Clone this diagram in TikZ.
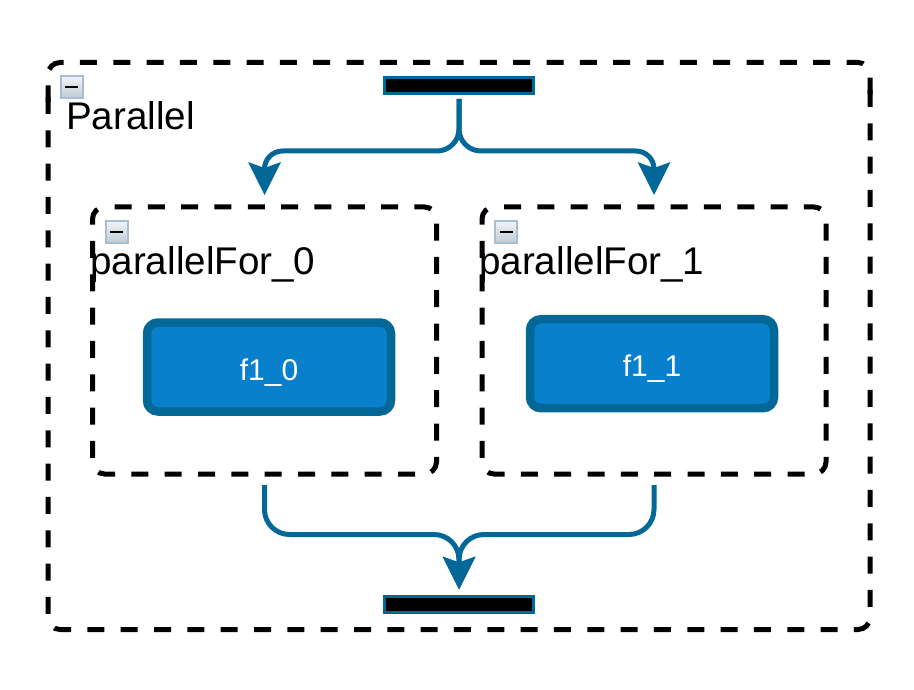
\documentclass[tikz,border=0pt]{standalone}
\usepackage{fontspec}
\setmainfont{Liberation Sans}
\usetikzlibrary{arrows.meta}
\definecolor{flowblue}{HTML}{036897}
\definecolor{taskblue}{HTML}{0880CB}
\definecolor{iconedge}{HTML}{A9BDD3}
\definecolor{icontop}{HTML}{F2F4F6}
\definecolor{iconbottom}{HTML}{BFCBD6}
\tikzset{
  groupbox/.style={inner sep=0pt,outer sep=0pt},
  dashedge/.style={line width=5pt,rounded corners=12pt,dash pattern=on 17pt off 16.33pt},
  taskbox/.style={draw=flowblue,fill=taskblue,line width=8.5pt,rounded corners=11pt,text=white,font=\fontsize{30}{36}\selectfont,minimum width=244pt,minimum height=89pt,text height=26pt,text depth=0pt},
  forkbar/.style={draw=flowblue,fill=black,line width=3pt,minimum width=149pt,minimum height=16pt,inner sep=0pt},
  flowline/.style={draw=flowblue,line width=5pt,-{Stealth[length=33pt,width=33pt,inset=6pt,line width=0pt]}},
  boxlabel/.style={anchor=base west,inner sep=0pt,font=\fontsize{38.6}{44}\selectfont},
  collapseicon/.style={draw=iconedge,top color=icontop,bottom color=iconbottom,line width=2pt,minimum size=22pt,inner sep=0pt}
}
\begin{document}
\begin{tikzpicture}[x=1pt,y=-1pt]
      \useasboundingbox (0,0) rectangle (914,690);
      \node[groupbox,minimum width=822pt,minimum height=567pt] (parallel) at (459,346) {};
      \node[groupbox,minimum width=344pt,minimum height=267pt] (for0) at (264.5,340.5) {};
      \node[groupbox,minimum width=344pt,minimum height=267pt] (for1) at (654,340.5) {};
      \draw[dashedge] ([yshift=-40pt]parallel.north west) -- (parallel.north west) -- (parallel.north east) -- ([yshift=-33pt]parallel.north east);
      \draw[dashedge] ([yshift=-27.5pt]parallel.north east) -- (parallel.south east) -- (parallel.south west) -- ([yshift=-34pt]parallel.north west);
      \draw[dashedge,dash phase=23.33pt] (for0.north west) -- (for0.north east) -- (for0.south east) -- (for0.south west) -- cycle;
      \draw[dashedge,dash phase=23.33pt] (for1.north west) -- (for1.north east) -- (for1.south east) -- (for1.south west) -- cycle;
      \node[forkbar] (topbar) at (459,85.5) {};
      \node[forkbar] (bottombar) at (459,604) {};
      \node[taskbox] (f0) at (269,367) {f1\_0};
      \node[taskbox] (f1) at (652,363.7) {f1\_1};
      \node[boxlabel] (parallellabel) at (66,130) {Parallel};
      \node[boxlabel] (for0label) at (90,275) {parallelFor\_0};
      \node[boxlabel] (for1label) at (479,275) {parallelFor\_1};
      \node[collapseicon] (icon) at (71.5,87) {};
      \node[collapseicon] (icon0) at (116.5,232) {};
      \node[collapseicon] (icon1) at (506,232) {};
      \draw[line width=2.5pt] ([xshift=-6.5pt]icon.center) -- ([xshift=6.5pt]icon.center);
      \draw[line width=2.5pt] ([xshift=-6.5pt]icon0.center) -- ([xshift=6.5pt]icon0.center);
      \draw[line width=2.5pt] ([xshift=-6.5pt]icon1.center) -- ([xshift=6.5pt]icon1.center);
      \coordinate (splitmid) at (459,151);
      \coordinate (mergemid) at (459,534.5);
      \draw[flowline,shorten <=4pt,shorten >=12pt,rounded corners=22pt] (topbar.south) -- (splitmid) [rounded corners=18pt] -- (for0.north |- splitmid) -- (for0.north);
      \draw[flowline,shorten <=4pt,shorten >=12pt,rounded corners=22pt] (topbar.south) -- (splitmid) [rounded corners=18pt] -- (for1.north |- splitmid) -- (for1.north);
      \draw[flowline,shorten <=11pt,shorten >=5pt,rounded corners=25pt] (for0.south) -- (for0.south |- mergemid) -- (mergemid) [rounded corners=20pt] -- (bottombar.north);
      \draw[flowline,shorten <=11pt,shorten >=5pt,rounded corners=25pt] (for1.south) -- (for1.south |- mergemid) -- (mergemid) [rounded corners=20pt] -- (bottombar.north);
    \end{tikzpicture}
\end{document}
